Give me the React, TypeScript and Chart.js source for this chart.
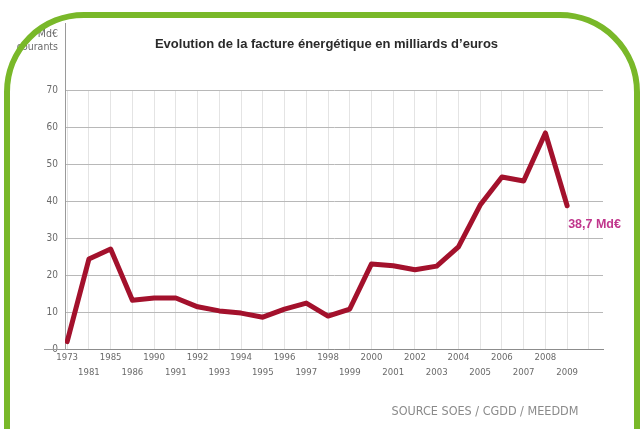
import React, { useEffect, useRef } from 'react';
import { Chart, registerables } from 'chart.js';

Chart.register(...registerables);

const years = [
  '1973', '1981', '1985', '1986', '1990', '1991', '1992', '1993', '1994', '1995', '1996', '1997',
  '1998', '1999', '2000', '2001', '2002', '2003', '2004', '2005', '2006', '2007', '2008', '2009',
];
const factureMdEur = [
  2, 24.3, 27, 13.2, 13.8, 13.8, 11.4, 10.3, 9.7, 8.6, 10.8, 12.4,
  8.9, 10.8, 23, 22.5, 21.4, 22.4, 27.6, 38.9, 46.5, 45.4, 58.4, 38.7,
];
const yMax = 70;
const yStep = 10;
const lastValueLabel = '38,7 Md€';
const titleText = 'Evolution de la facture énergétique en milliards d’euros';
const unitLines = ['Md€', 'courants'];
const sourceText = 'SOURCE SOES / CGDD / MEEDDM';

const narrow = "'Liberation Sans Narrow', 'DejaVu Sans Condensed', 'Liberation Sans', sans-serif";

const extrasPlugin = {
  id: 'extras',
  afterDraw(chart: any) {
    const { ctx, chartArea } = chart;
    ctx.save();
    ctx.strokeStyle = '#9a9a9a';
    ctx.lineWidth = 1;
    ctx.beginPath();
    ctx.moveTo(Math.round(chartArea.left) + 0.5, 23);
    ctx.lineTo(Math.round(chartArea.left) + 0.5, chartArea.top);
    ctx.stroke();
    ctx.beginPath();
    ctx.moveTo(44, Math.round(chartArea.bottom) + 0.5);
    ctx.lineTo(chartArea.left, Math.round(chartArea.bottom) + 0.5);
    ctx.stroke();
    const meta = chart.getDatasetMeta(0);
    const last = meta.data[meta.data.length - 1];
    ctx.fillStyle = '#c0368c';
    ctx.font = "bold 12.5px 'Liberation Sans', Arial, sans-serif";
    ctx.textAlign = 'left';
    ctx.textBaseline = 'middle';
    ctx.fillText(lastValueLabel, last.x + 1, last.y + 19);
    ctx.restore();
  },
};

export default function App() {
  const canvasRef = useRef<HTMLCanvasElement | null>(null);

  useEffect(() => {
    if (!canvasRef.current) return;
    const chart = new Chart(canvasRef.current, {
      type: 'line',
      data: {
        datasets: [
          {
            data: years.map((_, i) => ({ x: i, y: factureMdEur[i] })),
            borderColor: '#a3112c',
            borderWidth: 5,
            pointRadius: 0,
            tension: 0,
            borderJoinStyle: 'round',
            borderCapStyle: 'round',
            fill: false,
          },
        ],
      },
      options: {
        responsive: false,
        animation: false,
        layout: { padding: { top: 90, right: 40, left: 0, bottom: 0 } },
        plugins: { legend: { display: false }, tooltip: { enabled: false }, title: { display: false } },
        scales: {
          x: {
            type: 'linear',
            position: 'bottom',
            min: -0.1,
            max: 24.65,
            afterFit: (s: any) => { s.height = 80; },
            grid: { color: '#e4e4e4', drawTicks: false },
            border: { color: '#8c8c8c', width: 1 },
            ticks: {
              stepSize: 1,
              includeBounds: false,
              autoSkip: false,
              maxRotation: 0,
              padding: 1,
              color: '#6a6a6a',
              font: { family: narrow, size: 9.5, lineHeight: 1.6 },
              callback: (v: any) => {
                const i = Math.round(Number(v));
                const lbl = years[i];
                if (lbl === undefined) return '';
                return i % 2 === 0 ? [lbl] : ['', lbl];
              },
            },
          },
          y: {
            min: 0,
            max: yMax,
            afterFit: (s: any) => { s.width = 65; },
            grid: { color: '#b8b8b8', drawTicks: false },
            border: { color: '#9a9a9a', width: 1 },
            ticks: {
              stepSize: yStep,
              padding: 7,
              color: '#6a6a6a',
              font: { family: narrow, size: 10 },
            },
          },
        },
      },
      plugins: [extrasPlugin],
    } as any);
    return () => chart.destroy();
  }, []);

  return (
    <div style={{ position: 'fixed', left: 0, top: 0, width: 643, height: 429, overflow: 'hidden', background: '#fff' }}>
      <canvas ref={canvasRef} width={643} height={429} style={{ position: 'absolute', left: 0, top: 0, display: 'block' }} />
      <div
        style={{
          position: 'absolute', left: 0, top: 36, width: 653, textAlign: 'center',
          fontFamily: "'Liberation Sans', Arial, sans-serif", fontWeight: 'bold', fontSize: 13, color: '#2a2a2a',
          lineHeight: '16px', whiteSpace: 'nowrap',
        }}
      >
        {titleText}
      </div>
      <div
        style={{
          position: 'absolute', left: 0, top: 27, width: 58, textAlign: 'right',
          fontFamily: narrow, fontSize: 10.5, lineHeight: '13px', color: '#6a6a6a',
        }}
      >
        {unitLines.map((l) => (<div key={l}>{l}</div>))}
      </div>
      <div
        style={{
          position: 'absolute', left: 385, top: 404, width: 200, textAlign: 'center',
          fontFamily: narrow, fontSize: 12.5, lineHeight: '14px', color: '#8a8a8a', whiteSpace: 'nowrap',
        }}
      >
        {sourceText}
      </div>
      <div
        style={{
          position: 'absolute', left: 4, top: 12, width: 636, height: 540, boxSizing: 'border-box',
          border: '6px solid #79b829', borderRadius: 80, pointerEvents: 'none',
        }}
      />
    </div>
  );
}
